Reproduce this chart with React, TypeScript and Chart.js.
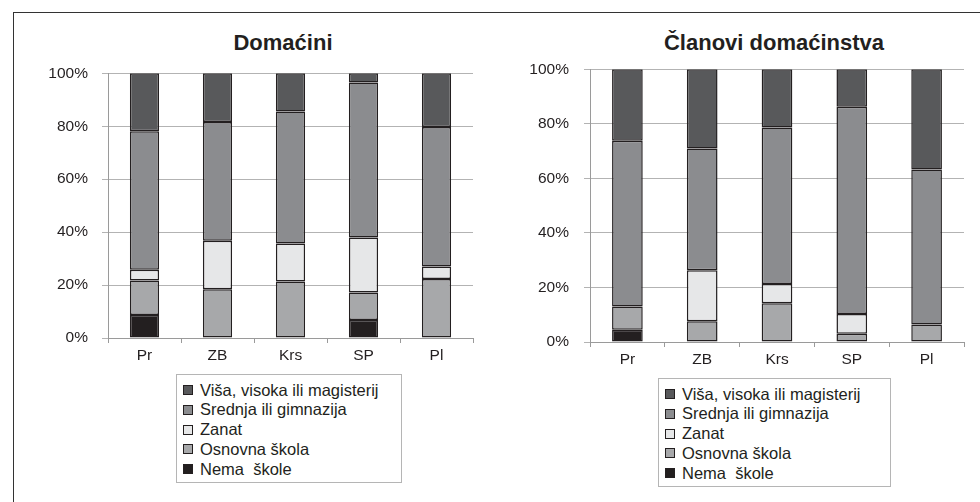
import React, { useEffect, useRef } from "react";
import { Chart, registerables } from "chart.js";

Chart.register(...registerables);

const categories = ["Pr", "ZB", "Krs", "SP", "Pl"];
const seriesLabels = [
  "Nema  škole",
  "Osnovna škola",
  "Zanat",
  "Srednja ili gimnazija",
  "Viša, visoka ili magisterij",
];
const seriesColors = ["#231f20", "#a7a8aa", "#e6e7e8", "#8b8c8f", "#58595b"];

// Domaćini (left)
const nemaL = [8.7, null, null, 6.8, null];
const osnovnaL = [13.0, 18.4, 21.3, 10.4, 22.3];
const zanatL = [4.1, 18.3, 14.4, 20.8, 4.7];
const srednjaL = [52.3, 44.9, 49.9, 58.5, 52.7];
const visaL = [21.9, 18.4, 14.4, 3.5, 20.3];

// Članovi domaćinstva (right)
const nemaR = [4.5, null, null, null, null];
const osnovnaR = [8.5, 7.6, 14.2, 3.0, 6.4];
const zanatR = [null, 18.7, 7.1, 7.3, null];
const srednjaR = [60.8, 44.7, 57.4, 76.0, 56.9];
const visaR = [26.2, 29.0, 21.3, 13.7, 36.7];

const yTicks = [0, 20, 40, 60, 80, 100];

const FONT = "'Liberation Sans', Arial, sans-serif";

type Cfg = {
  series: (number | null)[][];
  yWidth: number;
  xHeight: number;
  padTop: number;
  padRight: number;
  barPct: number;
  yPad: number;
};

function StackChart({ cfg, style }: { cfg: Cfg; style: React.CSSProperties }) {
  const ref = useRef<HTMLCanvasElement | null>(null);
  useEffect(() => {
    if (!ref.current) return;
    const chart = new Chart(ref.current, {
      type: "bar",
      data: {
        labels: categories,
        datasets: cfg.series.map((d, i) => ({
          label: seriesLabels[i],
          data: d as any,
          backgroundColor: seriesColors[i],
          borderColor: "#231f20",
          borderWidth: 1.5,
          borderSkipped: false,
          barPercentage: cfg.barPct,
          categoryPercentage: 1,
        })),
      },
      options: {
        animation: false,
        responsive: false,
        maintainAspectRatio: false,
        layout: { padding: { top: cfg.padTop, right: cfg.padRight, left: 0, bottom: 0 } },
        plugins: { legend: { display: false }, title: { display: false }, tooltip: { enabled: false } },
        scales: {
          x: {
            stacked: true,
            grid: { drawOnChartArea: false, drawTicks: true, tickLength: 5, color: "#9a9a9a", offset: true },
            border: { display: true, color: "#9a9a9a", width: 1 },
            ticks: { color: "#231f20", font: { family: FONT, size: 15.5 }, padding: 3 },
            afterFit: (s: any) => {
              s.height = cfg.xHeight;
            },
          },
          y: {
            stacked: true,
            min: 0,
            max: 100,
            afterBuildTicks: (s: any) => {
              s.ticks = yTicks.map((v) => ({ value: v }));
            },
            grid: { color: "#b3b3b3", lineWidth: 1, tickLength: 6, drawTicks: true },
            border: { display: true, color: "#9a9a9a", width: 1 },
            ticks: {
              color: "#231f20",
              font: { family: FONT, size: 15.5 },
              padding: cfg.yPad,
              callback: (v: any) => v + "%",
            },
            afterFit: (s: any) => {
              s.width = cfg.yWidth;
            },
          },
        },
      },
    });
    return () => chart.destroy();
  }, []);
  const w = style.width as number;
  const h = style.height as number;
  return <canvas ref={ref} width={w} height={h} style={{ position: "absolute", ...style }} />;
}

function Legend({ style }: { style: React.CSSProperties }) {
  const order = [4, 3, 2, 1, 0];
  return (
    <div
      style={{
        position: "absolute",
        border: "1px solid #b5b5b5",
        boxSizing: "border-box",
        fontFamily: FONT,
        fontSize: 16.5,
        color: "#231f20",
        ...style,
      }}
    >
      {order.map((i, k) => (
        <div
          key={i}
          style={{
            position: "absolute",
            left: 6,
            top: 5 + k * 19.8,
            height: 20,
            display: "flex",
            alignItems: "center",
            whiteSpace: "pre",
          }}
        >
          <span
            style={{
              display: "inline-block",
              width: 10,
              height: 10,
              boxSizing: "border-box",
              border: "1px solid #231f20",
              background: seriesColors[i],
              marginRight: 7,
            }}
          />
          <span>{seriesLabels[i]}</span>
        </div>
      ))}
    </div>
  );
}

export default function App() {
  const leftCfg: Cfg = {
    series: [nemaL, osnovnaL, zanatL, srednjaL, visaL],
    yWidth: 68,
    xHeight: 32,
    padTop: 4,
    padRight: 7,
    barPct: 0.4,
    yPad: 14,
  };
  const rightCfg: Cfg = {
    series: [nemaR, osnovnaR, zanatR, srednjaR, visaR],
    yWidth: 70,
    xHeight: 33,
    padTop: 5,
    padRight: 16,
    barPct: 0.41,
    yPad: 15,
  };
  const titleStyle: React.CSSProperties = {
    position: "absolute",
    fontFamily: FONT,
    fontWeight: "bold",
    fontSize: 22,
    color: "#231f20",
    textAlign: "center",
    whiteSpace: "nowrap",
  };
  return (
    <div
      style={{
        position: "absolute",
        left: 0,
        top: 0,
        width: 980,
        height: 502,
        overflow: "hidden",
        background: "#ffffff",
      }}
    >
      <div
        style={{
          position: "absolute",
          left: 13,
          top: 12,
          width: 1100,
          height: 600,
          borderTop: "1.5px solid #333",
          borderLeft: "1.5px solid #333",
        }}
      />
      <div style={{ ...titleStyle, left: 133, width: 300, top: 30 }}>Domaćini</div>
      <div style={{ ...titleStyle, left: 624, width: 300, top: 30 }}>Članovi domaćinstva</div>
      <StackChart cfg={leftCfg} style={{ left: 40, top: 50, width: 440, height: 320 }} />
      <StackChart cfg={rightCfg} style={{ left: 520, top: 45, width: 460, height: 330 }} />
      <Legend style={{ left: 176, top: 374, width: 226, height: 109 }} />
      <Legend style={{ left: 658, top: 378, width: 233, height: 109 }} />
    </div>
  );
}
